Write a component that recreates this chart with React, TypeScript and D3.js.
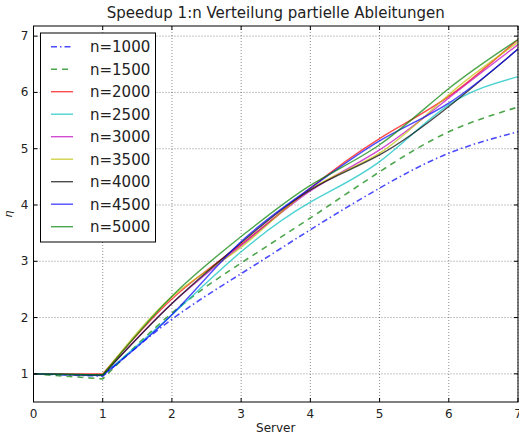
import React from 'react';
import * as d3 from 'd3';

const servers = [0, 1, 2, 3, 4, 5, 6, 7];
const seriesNames = ['n=1000', 'n=1500', 'n=2000', 'n=2500', 'n=3000', 'n=3500', 'n=4000', 'n=4500', 'n=5000'];
const n1000 = [1, 0.96, 1.97, 2.78, 3.56, 4.3, 4.92, 5.3];
const n1500 = [1, 0.91, 2.08, 2.97, 3.77, 4.59, 5.3, 5.74];
const n2000 = [1, 1.0, 2.33, 3.3, 4.3, 5.18, 5.93, 6.94];
const n2500 = [1, 0.98, 2.05, 3.17, 4.05, 4.77, 5.78, 6.28];
const n3000 = [1, 0.98, 2.25, 3.28, 4.25, 4.98, 5.9, 6.85];
const n3500 = [1, 0.98, 2.37, 3.25, 4.28, 4.92, 5.96, 6.89];
const n4000 = [1, 0.98, 2.25, 3.33, 4.27, 4.89, 5.75, 6.77];
const n4500 = [1, 0.97, 2.05, 3.35, 4.3, 5.14, 5.81, 6.77];
const n5000 = [1, 0.98, 2.38, 3.44, 4.35, 5.07, 6.07, 6.94];
const allValues = [n1000, n1500, n2000, n2500, n3000, n3500, n4000, n4500, n5000];
const colors = ['#0000ff', '#008000', '#ff0000', '#00bfbf', '#bf00bf', '#bfbf00', '#000000', '#0000ff', '#008000'];
const dashes = ['6,3,1.5,3', '6,5', '', '', '', '', '', '', ''];
const xTicks = [0, 1, 2, 3, 4, 5, 6, 7];
const yTicks = [1, 2, 3, 4, 5, 6, 7];

const W = 519, H = 437;
const left = 33.5, right = 518, top = 26, bottom = 402;

export default function App() {
  const x = d3.scaleLinear().domain([0, 7]).range([left, right]);
  const y = d3.scaleLinear().domain([0.5, 7.18]).range([bottom, top]);
  const font = 'DejaVu Sans, sans-serif';

  // straight from 0 to 1, smooth spline from 1 onwards
  const pathFor = (vals: number[]) => {
    const pts: [number, number][] = servers.map((s, i) => [x(s), y(vals[i])]);
    const spline = d3.line().curve(d3.curveNatural)(pts.slice(1)) || '';
    return `M${pts[0][0]},${pts[0][1]}L` + spline.slice(1);
  };

  return (
    <svg width={W} height={H} style={{ position: 'absolute', left: 0, top: 0, background: '#fff' }}>
      <rect x={0} y={0} width={W} height={H} fill="#fff" />
      {xTicks.map(t => (
        <line key={'gx' + t} x1={x(t)} x2={x(t)} y1={top} y2={bottom} stroke="#000" strokeOpacity={0.45} strokeDasharray="1,2" />
      ))}
      {yTicks.map(t => (
        <line key={'gy' + t} x1={left} x2={right} y1={y(t)} y2={y(t)} stroke="#000" strokeOpacity={0.45} strokeDasharray="1,2" />
      ))}
      {allValues.map((vals, i) => (
        <path key={seriesNames[i]} d={pathFor(vals)} fill="none" stroke={colors[i]} strokeOpacity={0.7}
          strokeWidth={i < 2 ? 1.6 : 1.4} strokeDasharray={dashes[i] || undefined} />
      ))}
      <rect x={left} y={top} width={right - left} height={bottom - top} fill="none" stroke="#000" strokeWidth={1} />
      {xTicks.map(t => (
        <g key={'tx' + t}>
          <line x1={x(t)} x2={x(t)} y1={bottom} y2={bottom - 4} stroke="#000" />
          <line x1={x(t)} x2={x(t)} y1={top} y2={top + 4} stroke="#000" />
          <text x={x(t)} y={bottom + 16} textAnchor="middle" fontFamily={font} fontSize={12} fill="#222">{t}</text>
        </g>
      ))}
      {yTicks.map(t => (
        <g key={'ty' + t}>
          <line x1={left} x2={left + 4} y1={y(t)} y2={y(t)} stroke="#000" />
          <line x1={right} x2={right - 4} y1={y(t)} y2={y(t)} stroke="#000" />
          <text x={left - 5} y={y(t) + 4} textAnchor="end" fontFamily={font} fontSize={12} fill="#222">{t}</text>
        </g>
      ))}
      <text x={(left + right) / 2} y={18} textAnchor="middle" fontFamily={font} fontSize={15} fill="#222">
        Speedup 1:n Verteilung partielle Ableitungen
      </text>
      <text x={(left + right) / 2} y={432} textAnchor="middle" fontFamily={font} fontSize={12} fill="#222">Server</text>
      <text transform={`translate(12,${(top + bottom) / 2}) rotate(-90)`} textAnchor="middle" fontFamily={font}
        fontSize={11} fontStyle="italic" fill="#222">η</text>
      <rect x={40.5} y={33} width={115} height={209} fill="#fff" stroke="#000" strokeWidth={1} />
      {seriesNames.map((name, i) => {
        const ly = 46.7 + i * 22.5;
        return (
          <g key={'lg' + name}>
            <line x1={51} x2={73} y1={ly} y2={ly} stroke={colors[i]} strokeOpacity={0.7} strokeWidth={i < 2 ? 1.6 : 1.4}
              strokeDasharray={dashes[i] || undefined} />
            <text x={90} y={ly + 5.5} fontFamily={font} fontSize={15} fill="#222">{name}</text>
          </g>
        );
      })}
    </svg>
  );
}
